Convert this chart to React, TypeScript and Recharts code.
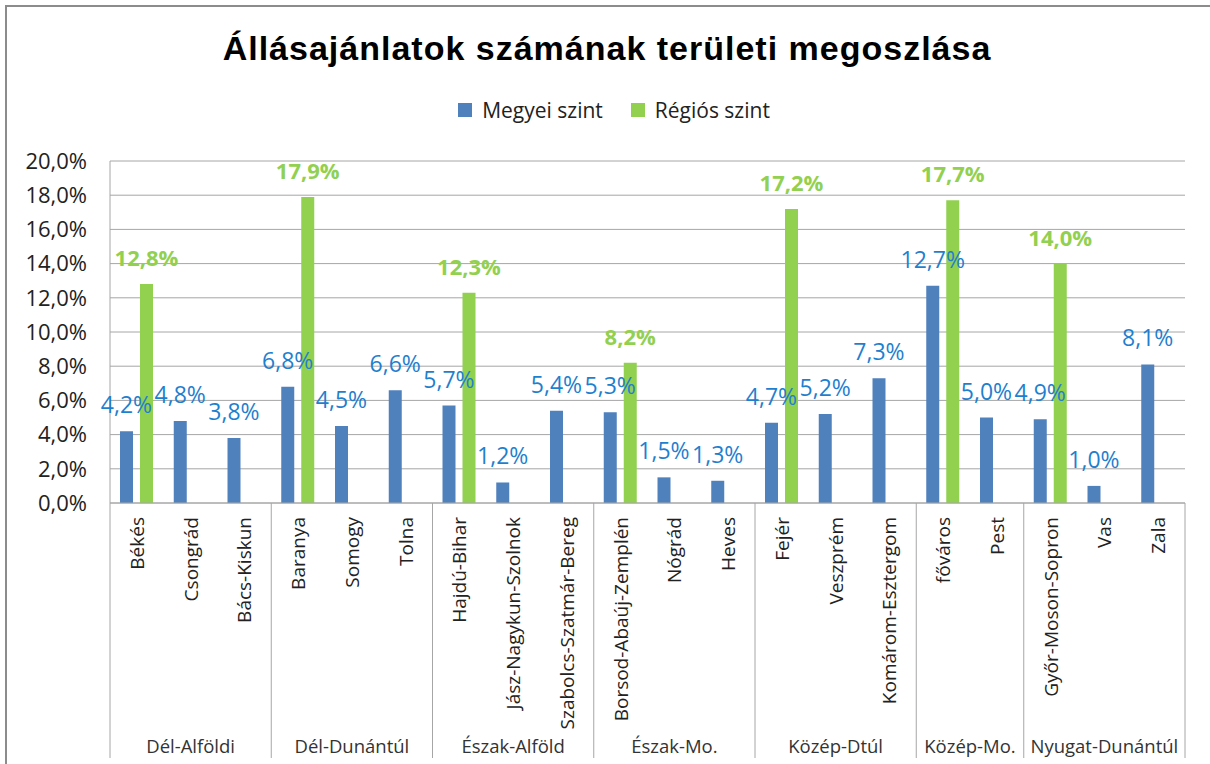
import React from 'react';
import { BarChart, Bar, XAxis, YAxis, CartesianGrid, Legend, LabelList } from 'recharts';

const counties = [
  'Békés', 'Csongrád', 'Bács-Kiskun',
  'Baranya', 'Somogy', 'Tolna',
  'Hajdú-Bihar', 'Jász-Nagykun-Szolnok', 'Szabolcs-Szatmár-Bereg',
  'Borsod-Abaúj-Zemplén', 'Nógrád', 'Heves',
  'Fejér', 'Veszprém', 'Komárom-Esztergom',
  'főváros', 'Pest',
  'Győr-Moson-Sopron', 'Vas', 'Zala',
];
const regions = ['Dél-Alföldi', 'Dél-Dunántúl', 'Észak-Alföld', 'Észak-Mo.', 'Közép-Dtúl', 'Közép-Mo.', 'Nyugat-Dunántúl'];
const regionSizes = [3, 3, 3, 3, 3, 2, 3];
const megyeiValues = [4.2, 4.8, 3.8, 6.8, 4.5, 6.6, 5.7, 1.2, 5.4, 5.3, 1.5, 1.3, 4.7, 5.2, 7.3, 12.7, 5.0, 4.9, 1.0, 8.1];
const regiosValues = [12.8, null, null, 17.9, null, null, 12.3, null, null, 8.2, null, null, 17.2, null, null, 17.7, null, 14.0, null, null];
const yTicks = [0, 2, 4, 6, 8, 10, 12, 14, 16, 18, 20];

const data = counties.map((name, i) => ({ name, megyei: megyeiValues[i], regios: regiosValues[i] }));

// index of the first county of each region
const regionStarts: number[] = [];
regionSizes.reduce((acc, s) => {
  regionStarts.push(acc);
  return acc + s;
}, 0);

const FONT = "'Open Sans', sans-serif";
const AXIS_H = 255;
const BLUE = '#4f81bd';
const GREEN = '#92d050';
const GRID = '#a6a6a6';

const pct = (v: number) => v.toFixed(1).replace('.', ',') + '%';

const CountyTick = (props: any) => {
  const { x, y, payload, index } = props;
  const half = payload && payload.offset ? payload.offset : 26.875;
  const r = regionStarts.indexOf(index);
  const tx = x + 7;
  const ty = y + 14;
  return (
    <g>
      <text x={tx} y={ty} transform={`rotate(-90, ${tx}, ${ty})`} textAnchor="end" fontSize={19} fill="#222">
        {payload.value}
      </text>
      {r >= 0 && (
        <g>
          <line x1={x - half} x2={x - half} y1={y} y2={y + AXIS_H} stroke={GRID} />
          <text x={x - half + regionSizes[r] * half} y={y + 250} textAnchor="middle" fontSize={18.5} fill="#333">
            {regions[r]}
          </text>
        </g>
      )}
      {index === counties.length - 1 && (
        <line x1={x + half} x2={x + half} y1={y} y2={y + AXIS_H} stroke={GRID} />
      )}
    </g>
  );
};

const makeLabel = (color: string, bold: boolean) => (props: any) => {
  const { x, y, width, value } = props;
  if (value == null) return null;
  return (
    <text
      x={x + width / 2}
      y={y - 18}
      textAnchor="middle"
      fill={color}
      fontSize={bold ? 22 : 23}
      fontWeight={bold ? 'bold' : 'normal'}
    >
      {pct(value)}
    </text>
  );
};

const LegendContent = (props: any) => {
  const { payload } = props;
  return (
    <div style={{ display: 'flex', justifyContent: 'center', gap: 28, fontSize: 21, color: '#222', fontFamily: FONT }}>
      {(payload || []).map((p: any) => (
        <div key={p.value} style={{ display: 'flex', alignItems: 'center' }}>
          <span style={{ display: 'inline-block', width: 14, height: 14, background: p.color, marginRight: 10 }} />
          {p.value}
        </div>
      ))}
    </div>
  );
};

export default function App() {
  return (
    <div style={{ position: 'absolute', left: 0, top: 0, width: 1210, height: 764, background: '#fff', fontFamily: FONT }}>
      <div
        style={{
          position: 'absolute', left: 5, top: 5, right: 0, bottom: 0,
          borderLeft: '2px solid #8c8c8c', borderTop: '2px solid #8c8c8c',
        }}
      />
      <div
        style={{
          position: 'absolute', left: 0, width: 1214, top: 31, textAlign: 'center',
          fontFamily: "'Liberation Sans', Arial, sans-serif", fontWeight: 'bold',
          fontSize: 34, lineHeight: '34px', letterSpacing: 1, color: '#000',
        }}
      >
        Állásajánlatok számának területi megoszlása
      </div>
      <BarChart
        width={1210}
        height={764}
        data={data}
        margin={{ top: 161, right: 25, left: 0, bottom: 6 }}
        barCategoryGap={10}
        barGap={7}
      >
        <CartesianGrid vertical={false} stroke={GRID} />
        <XAxis
          dataKey="name"
          height={AXIS_H}
          interval={0}
          tickLine={false}
          tickSize={0}
          tickMargin={0}
          axisLine={{ stroke: GRID }}
          tick={<CountyTick />}
        />
        <YAxis
          width={110}
          domain={[0, 20]}
          ticks={yTicks}
          tickFormatter={pct}
          tickLine={false}
          tickSize={0}
          tickMargin={23}
          axisLine={{ stroke: GRID }}
          tick={{ fontSize: 22, fill: '#222' }}
        />
        <Legend
          layout="horizontal"
          verticalAlign="middle"
          align="center"
          wrapperStyle={{ top: 96, left: 9, width: 1210 }}
          content={<LegendContent />}
        />
        <Bar dataKey="megyei" name="Megyei szint" fill={BLUE} isAnimationActive={false}>
          <LabelList dataKey="megyei" content={makeLabel('#1f7fcf', false)} />
        </Bar>
        <Bar dataKey="regios" name="Régiós szint" fill={GREEN} isAnimationActive={false}>
          <LabelList dataKey="regios" content={makeLabel(GREEN, true)} />
        </Bar>
      </BarChart>
    </div>
  );
}
